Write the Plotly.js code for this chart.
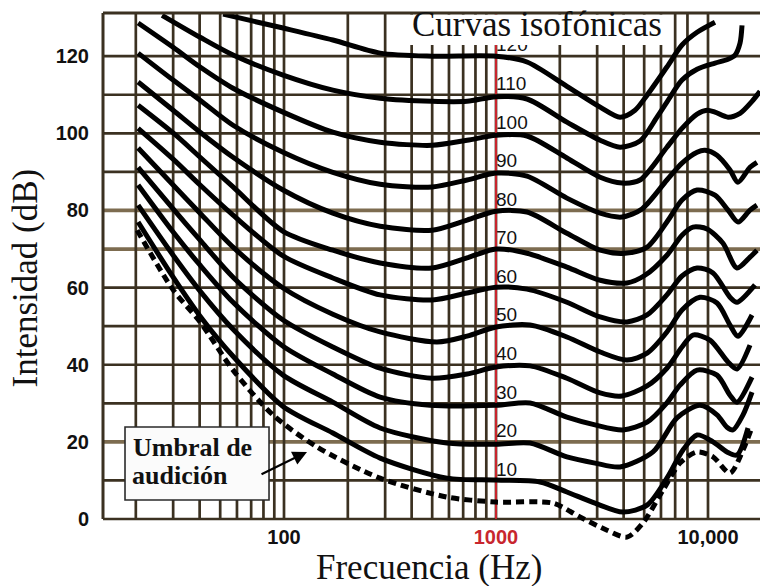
<!DOCTYPE html>
<html>
<head>
<meta charset="utf-8">
<script src="https://cdn.plot.ly/plotly-3.0.1.min.js"></script>
<style>html,body{margin:0;padding:0;background:#fff;}#chart{width:760px;height:586px;}</style>
</head>
<body>
<div id="chart"></div>
<script>
// Equal-loudness contours (phon) : frequency (Hz) and level (dB)
const f120 = [51.6, 99, 170, 284, 500, 1000, 1400, 2160, 3100, 3845, 4526, 5160, 6400, 7540, 8880, 10790];
const db120 = [130.9, 127.3, 124.2, 120.8, 120.0, 120.0, 118.5, 112.2, 106.8, 104.2, 106.0, 109.9, 117.2, 122.9, 126.2, 128.8];

const f110 = [26.6, 40.2, 57.5, 99, 170, 284, 500, 730, 1000, 1400, 2160, 3100, 3845, 4777, 5746, 6400, 7540, 8880, 10790, 12430, 13410, 14160, 14470];
const db110 = [130.6, 124.9, 120.3, 115.1, 111.2, 109.1, 108.3, 108.3, 109.5, 108.9, 102.9, 98.2, 96.4, 98.0, 104.2, 108.1, 113.8, 116.6, 118.2, 119.2, 120.3, 123.4, 128.0];

const f100 = [20.5, 30, 40.2, 57.5, 99, 170, 284, 500, 730, 1000, 1400, 2160, 3100, 3930, 4777, 6400, 7540, 8880, 9890, 10790, 12430, 14160, 16130, 17590];
const db100 = [128.6, 122.3, 117.2, 111.7, 105.5, 100.3, 97.7, 96.9, 98.2, 99.5, 99.3, 93.6, 88.6, 87.1, 87.9, 96.4, 101.3, 105.0, 106.0, 105.5, 104.2, 105.2, 108.3, 110.9];

const f90 = [20.5, 30, 40.2, 57.5, 99, 170, 284, 500, 730, 1000, 1400, 2160, 3100, 3930, 4883, 6400, 7540, 8880, 9680, 11030, 12700, 13850, 15780, 17020];
const db90 = [120.8, 113.8, 108.6, 102.1, 95.1, 89.9, 86.8, 86.1, 87.9, 89.7, 88.9, 83.2, 79.3, 78.3, 80.4, 87.9, 92.3, 95.1, 95.6, 94.3, 90.5, 87.3, 91.2, 92.5];

const f80 = [20.5, 30, 40.2, 57.5, 99, 170, 284, 500, 730, 1000, 1400, 2160, 3100, 4060, 5160, 6400, 7540, 8880, 10790, 12430, 13850, 15780, 17020];
const db80 = [113.3, 106.0, 100.3, 93.8, 85.3, 79.3, 75.9, 74.9, 77.5, 79.8, 79.6, 74.1, 69.7, 68.9, 70.5, 77.0, 82.7, 85.3, 84.0, 80.1, 77.0, 80.1, 81.4];

const f70 = [20.5, 30, 40.2, 57.5, 99, 170, 284, 500, 730, 1000, 1400, 2160, 3100, 4148, 5045, 6400, 7540, 8495, 9890, 11770, 13700, 15780, 17020];
const db70 = [107.3, 100.1, 93.8, 86.1, 74.6, 69.7, 66.4, 65.1, 67.7, 70.0, 68.9, 65.3, 61.9, 61.2, 63.2, 68.4, 73.6, 75.7, 75.2, 71.5, 65.1, 67.9, 69.7];

const f60 = [20.5, 30, 40.2, 57.5, 99, 170, 284, 500, 730, 1000, 1400, 2160, 3100, 4148, 5160, 6400, 7540, 8880, 10560, 12700, 13700, 16660];
const db60 = [101.3, 93.3, 86.6, 78.8, 68.2, 62.5, 58.1, 56.8, 58.6, 60.1, 59.6, 56.2, 52.4, 51.1, 52.9, 58.1, 63.0, 65.1, 63.8, 57.5, 56.2, 60.7];

const f50 = [20.5, 30, 40.2, 57.5, 99, 170, 284, 527, 730, 1000, 1447, 2160, 3100, 4148, 5160, 6400, 7540, 9160, 11030, 12700, 13850, 16130];
const db50 = [96.2, 86.6, 79.3, 70.5, 59.9, 53.1, 48.5, 45.9, 47.4, 49.8, 50.3, 47.2, 43.3, 41.2, 43.0, 48.5, 54.2, 57.5, 56.0, 50.3, 47.4, 52.9];

const f40 = [20.5, 30, 40.2, 57.5, 99, 170, 284, 500, 730, 1000, 1447, 2160, 3100, 3930, 5160, 6400, 7540, 8495, 10220, 12430, 13700, 15780];
const db40 = [91.2, 80.4, 72.3, 62.7, 51.6, 44.6, 39.1, 36.5, 37.6, 39.4, 39.7, 36.5, 32.7, 31.9, 34.5, 39.1, 44.6, 47.7, 46.4, 40.7, 38.9, 45.1];

const f30 = [20.5, 30, 40.2, 57.5, 99, 170, 284, 488, 1000, 1447, 2160, 2931, 3972, 5160, 6400, 7378, 8880, 11030, 12700, 13700, 16130];
const db30 = [86.6, 74.4, 65.8, 56.2, 44.8, 37.6, 31.6, 29.5, 29.5, 30.1, 26.4, 24.4, 23.1, 25.1, 30.1, 34.7, 38.6, 37.3, 32.1, 30.3, 36.8];

const f20 = [20.5, 30, 40.2, 57.5, 99, 170, 284, 587, 1000, 1447, 2160, 2931, 3845, 5503, 7142, 9160, 11030, 12290, 13120, 14630, 16130];
const db20 = [81.4, 68.4, 59.1, 49.2, 37.3, 30.3, 23.6, 19.7, 19.4, 19.7, 16.1, 14.5, 13.5, 17.4, 26.2, 29.5, 27.0, 23.8, 23.1, 27.0, 32.9];

const f10 = [20.5, 30, 40.2, 57.5, 99, 170, 284, 587, 1000, 1612, 2160, 2931, 3972, 5160, 6400, 7620, 8880, 10560, 12290, 13700, 15440];
const db10 = [77.0, 62.7, 52.6, 42.2, 29.2, 22.3, 15.8, 10.6, 10.1, 9.6, 7.0, 4.1, 1.8, 3.6, 10.6, 17.9, 21.8, 20.0, 17.4, 16.6, 23.6];

// Threshold of hearing (dotted)
const fThr = [20.3, 30, 40.2, 57.5, 88.7, 143, 284, 587, 1000, 1857, 2490, 3339, 4148, 4935, 6135, 7378, 8880, 10560, 12700, 14630, 16130];
const dbThr = [74.9, 59.4, 51.1, 38.6, 27.0, 18.7, 10.6, 5.7, 4.4, 4.1, 0.5, -2.9, -4.7, -1.0, 7.5, 14.5, 17.4, 16.1, 11.9, 17.9, 23.8];

// Curve labels at 1000 Hz
const phons = [120, 110, 100, 90, 80, 70, 60, 50, 40, 30, 20, 10];
const labelFreq = 1000;

// Axis ticks / grid
const gridFreqs = [20,30,40,50,60,70,80,90,100,200,300,400,500,600,700,800,900,1000,2000,3000,4000,5000,6000,7000,8000,10000];
const freqTicks = [100, 1000, 10000];
const freqTickText = ['100', '1000', '10,000'];
const levelGrid = [0,10,20,30,40,50,60,70,80,90,100,110,120];
const levelTicks = [0, 20, 40, 60, 80, 100, 120];
const lightLevels = [20, 70, 80];

const curves = [
  [f120, db120], [f110, db110], [f100, db100], [f90, db90], [f80, db80], [f70, db70],
  [f60, db60], [f50, db50], [f40, db40], [f30, db30], [f20, db20], [f10, db10]
];

const X_RANGE = [1.1462, 4.2453];
const Y_RANGE = [-5.96, 131.2];
const DARK = '#3b3121';
const LIGHT = '#7d6c50';
const RED = '#c8262e';

const traces = curves.map(c => ({
  x: c[0], y: c[1], type: 'scatter', mode: 'lines',
  line: {color: '#000', width: 5, shape: 'spline', smoothing: 0.8},
  hoverinfo: 'skip'
}));

traces.push({
  x: fThr, y: dbThr, type: 'scatter', mode: 'lines',
  line: {color: '#000', width: 5, shape: 'spline', smoothing: 0.8, dash: '8px,5px'},
  hoverinfo: 'skip'
});

traces.push({
  x: phons.map(() => labelFreq), y: phons, type: 'scatter', mode: 'text',
  text: phons.map(String), textposition: 'top right',
  textfont: {family: 'Liberation Sans, Arial, sans-serif', size: 19, color: '#111'},
  cliponaxis: false, hoverinfo: 'skip'
});

const shapes = [];
// grid (drawn only from 0 dB upward)
gridFreqs.forEach(f => shapes.push({type: 'line', xref: 'x', yref: 'y', x0: f, x1: f, y0: 0, y1: Y_RANGE[1],
  line: {color: DARK, width: 2.7}, layer: 'below'}));
levelGrid.forEach(v => {
  const light = lightLevels.includes(v);
  shapes.push({type: 'line', xref: 'paper', yref: 'y', x0: 0, x1: 1, y0: v, y1: v,
    line: {color: light ? LIGHT : DARK, width: light ? 3.8 : 2.7}, layer: 'below'});
});
// red 1000 Hz line
shapes.push({type: 'line', xref: 'x', yref: 'y', x0: 1000, x1: 1000, y0: 0, y1: Y_RANGE[1],
  line: {color: RED, width: 2}, layer: 'below'});
// left border
shapes.push({type: 'line', xref: 'paper', yref: 'y', x0: 0, x1: 0, y0: 0, y1: Y_RANGE[1],
  line: {color: DARK, width: 3}, layer: 'below'});
// title box
shapes.push({type: 'rect', xref: 'paper', yref: 'paper', x0: 0.4353, x1: 0.8676, y0: 0.9395, y1: 0.9972,
  fillcolor: '#fff', line: {width: 0}, layer: 'above'});
// top border
shapes.push({type: 'line', xref: 'paper', yref: 'paper', x0: 0, x1: 1, y0: 1, y1: 1,
  line: {color: DARK, width: 3}, layer: 'above'});
// threshold label box
shapes.push({type: 'rect', xref: 'paper', yref: 'paper', x0: 0.0335, x1: 0.2527, y0: 0.0794, y1: 0.2174,
  fillcolor: '#fbfbfb', line: {color: '#2a2a2a', width: 1.6}, layer: 'above'});

const serif = 'Liberation Serif, Times New Roman, serif';
const annotations = [
  {text: 'Curvas isofónicas', xref: 'paper', yref: 'paper', x: 0.6613, y: 0.9792, xanchor: 'center', yanchor: 'middle',
   showarrow: false, font: {family: serif, size: 35, color: '#111'}},
  {text: 'Frecuencia (Hz)', xref: 'paper', yref: 'paper', x: 0.4962, y: -0.0491, xanchor: 'center', yanchor: 'middle',
   showarrow: false, font: {family: serif, size: 35, color: '#111'}},
  {text: 'Intensidad (dB)', xref: 'paper', yref: 'paper', x: -0.1172, y: 0.5, xanchor: 'center', yanchor: 'middle',
   textangle: -90, showarrow: false, font: {family: serif, size: 35, color: '#111'}},
  {text: '<b>Umbral de</b>', xref: 'paper', yref: 'paper', x: 0.0426, y: 0.1777, xanchor: 'left', yanchor: 'middle',
   showarrow: false, font: {family: serif, size: 26, color: '#111'}},
  {text: '<b>audición</b>', xref: 'paper', yref: 'paper', x: 0.0411, y: 0.1248, xanchor: 'left', yanchor: 'middle',
   showarrow: false, font: {family: serif, size: 26, color: '#111'}},
  {text: '', xref: 'x', yref: 'y', x: Math.log10(128.4), y: 17.4, ax: -47, ay: 23, showarrow: true,
   arrowhead: 2, arrowsize: 1.3, arrowwidth: 2.2, arrowcolor: '#000'}
];

const layout = {
  width: 760, height: 586,
  margin: {l: 103, r: 0, t: 13, b: 44},
  paper_bgcolor: '#fff', plot_bgcolor: '#fff',
  showlegend: false,
  xaxis: {
    type: 'log', range: X_RANGE, tickmode: 'array', tickvals: freqTicks,
    ticktext: freqTickText.map((t, i) => freqTicks[i] === 1000 ? '<b><span style="color:' + RED + '">' + t + '</span></b>' : '<b>' + t + '</b>'),
    showgrid: false, zeroline: false, showline: false, ticks: '',
    anchor: 'free', position: 0.036,
    tickfont: {family: 'Liberation Sans, Arial, sans-serif', size: 20, color: '#111'}, fixedrange: true
  },
  yaxis: {
    range: Y_RANGE, tickmode: 'array', tickvals: levelTicks,
    ticktext: levelTicks.map(v => '<b>' + v + '</b>'),
    showgrid: false, zeroline: false, showline: false,
    ticks: 'outside', ticklen: 9, tickcolor: 'rgba(0,0,0,0)',
    tickfont: {family: 'Liberation Sans, Arial, sans-serif', size: 20, color: '#111'}, fixedrange: true
  },
  shapes: shapes,
  annotations: annotations
};

Plotly.newPlot('chart', traces, layout, {staticPlot: true, displayModeBar: false});
</script>
</body>
</html>
